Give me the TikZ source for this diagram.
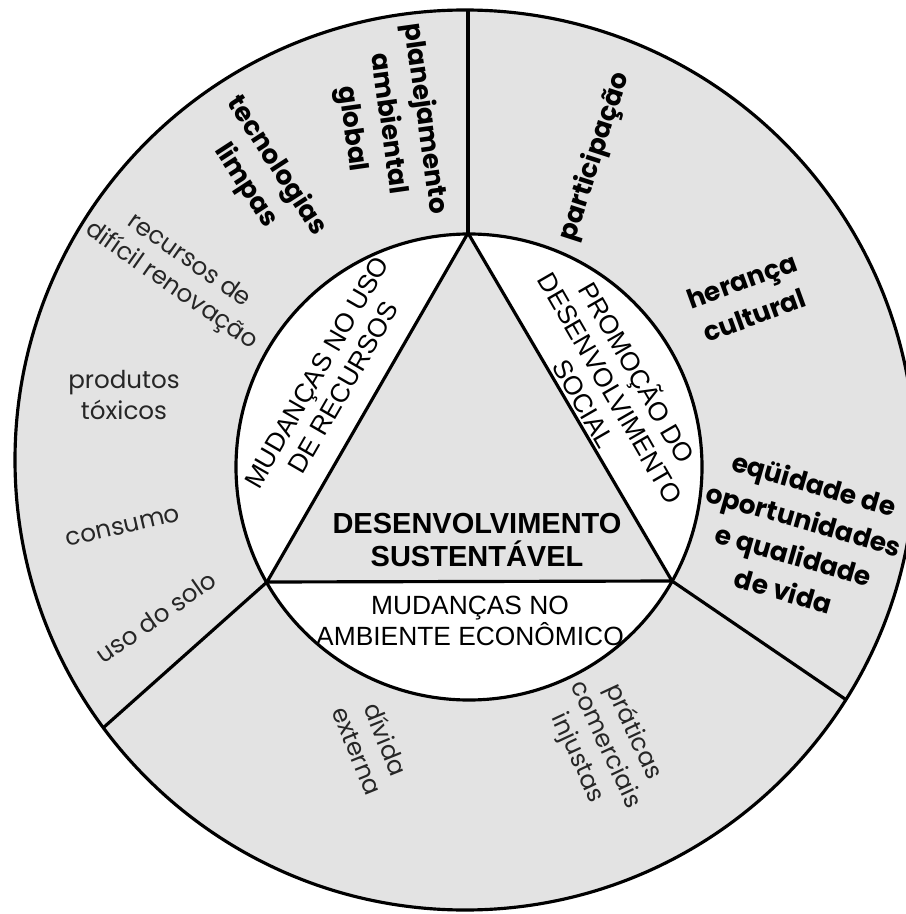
\documentclass[tikz,border=0pt]{standalone}
\usepackage{fontspec}
\usepackage{tikz}
\usetikzlibrary{calc}
\setmainfont{Liberation Sans}
\newfontfamily\geofont{Poppins}

\begin{document}
\begin{tikzpicture}[x=0.2mm, y=-0.2mm, line width=1.8pt,
  every node/.style={align=center, inner sep=0pt},
  ringfill/.style={fill=black!11},
  outerbold/.style={font=\geofont\bfseries\fontsize{15}{21}\selectfont},
  outerlight/.style={font=\geofont\fontsize{14}{17.5}\selectfont, text=black!85},
  innerlabel/.style={font=\fontsize{15}{17.5}\selectfont},
  centrelabel/.style={font=\bfseries\fontsize{16.5}{19}\selectfont}]
  \useasboundingbox (0,0) rectangle (905,914);
  \fill[white] (0,0) rectangle (905,914);
  % ring and inner circle
  \coordinate (oc) at (465,460);
  \coordinate (ic) at (469,467);
  \draw[ringfill] (oc) circle (450);
  \draw[fill=white] (ic) circle (233);
  % triangle
  \coordinate (vtop) at (468,233);
  \coordinate (vleft) at (267,582);
  \coordinate (vright) at (672,581);
  \draw[ringfill] (vtop) -- (vleft) -- (vright) -- cycle;
  % sector borders
  \coordinate (etop) at (468,10);
  \coordinate (eleft) at (103,728);
  \coordinate (eright) at (845,699);
  \draw (vtop) -- (etop);
  \draw (vleft) -- (eleft);
  \draw (vright) -- (eright);
  % inner labels
  \node (desenv) [centrelabel] at (477,540) {DESENVOLVIMENTO\\SUSTENTÁVEL};
  \node (mudrec) [innerlabel, rotate=60] at (330,380) {MUDANÇAS NO USO\\DE RECURSOS};
  \node (promo) [innerlabel, rotate=-60] at (612,387) {PROMOÇÃO DO\\DESENVOLVIMENTO\\SOCIAL};
  \node (mudeco) [innerlabel] at (470,621) {MUDANÇAS NO\\AMBIENTE ECONÔMICO};
  % outer labels, left sector
  \node (planej) [outerbold, rotate=-82] at (388,124) {planejamento\\ambiental\\global};
  \node (tecno) [outerbold, rotate=-57] at (261,176) {tecnologias\\limpas};
  \node (recur) [outerlight, rotate=-35] at (180,274) {recursos de\\difícil renovação};
  \node (produt) [outerlight] at (124,395) {produtos\\tóxicos};
  \node (consumo) [outerlight, rotate=13] at (123,527) {consumo};
  \node (solo) [outerlight, rotate=35] at (156,617) {uso do solo};
  % outer labels, right sector
  \node (partic) [outerbold, rotate=72] at (595,157) {participação};
  \node (heranca) [outerbold, rotate=20] at (748,298) {herança\\cultural};
  \node (equid) [outerbold, rotate=-16] at (799,537) {eqüidade de\\oportunidades\\e qualidade\\de vida};
  % outer labels, bottom sector
  \node (divida) [outerlight, rotate=-68] at (372,745) {dívida\\externa};
  \node (pratic) [outerlight, rotate=-65] at (605,745) {práticas\\comerciais\\injustas};
\end{tikzpicture}
\end{document}
